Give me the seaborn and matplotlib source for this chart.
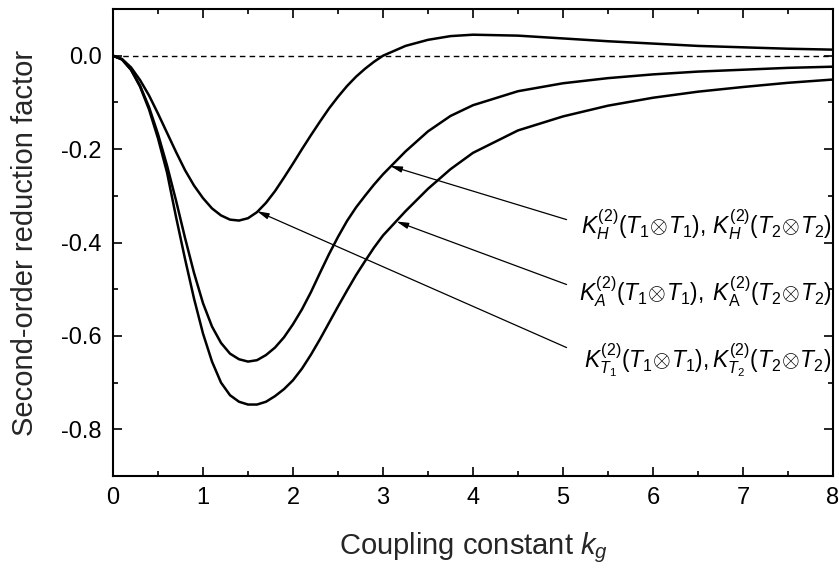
import numpy as np
import pandas as pd
import matplotlib
matplotlib.use('Agg')
import matplotlib.pyplot as plt
import seaborn as sns
from matplotlib.ticker import MultipleLocator, FormatStrFormatter

# Values
k_g = [0.0, 0.1, 0.2, 0.3, 0.4, 0.5, 0.6, 0.7, 0.8, 0.9, 1.0, 1.1, 1.2, 1.3, 1.4, 1.5,
       1.6, 1.7, 1.8, 1.9, 2.0, 2.1, 2.2, 2.3, 2.4, 2.5, 2.6, 2.7, 2.8, 2.9, 3.0,
       3.25, 3.5, 3.75, 4.0, 4.5, 5.0, 5.5, 6.0, 6.5, 7.0, 7.5, 8.0]

# curve with the shallow minimum, pointed to by the K_T label
k_t = [0.0, -0.007, -0.025, -0.052, -0.085, -0.124, -0.165, -0.206, -0.245, -0.278,
       -0.305, -0.327, -0.342, -0.351, -0.353, -0.348, -0.335, -0.315, -0.290, -0.261,
       -0.231, -0.200, -0.170, -0.141, -0.113, -0.088, -0.065, -0.045, -0.028, -0.013,
       0.0, 0.021, 0.034, 0.042, 0.045, 0.043, 0.037, 0.031, 0.026, 0.021, 0.018,
       0.015, 0.013]

# middle curve, pointed to by the K_H label
k_h = [0.0, -0.008, -0.030, -0.064, -0.110, -0.168, -0.235, -0.310, -0.390, -0.465,
       -0.530, -0.580, -0.615, -0.638, -0.650, -0.655, -0.652, -0.641, -0.625, -0.603,
       -0.575, -0.543, -0.506, -0.465, -0.425, -0.388, -0.354, -0.325, -0.300, -0.276,
       -0.254, -0.205, -0.162, -0.129, -0.106, -0.076, -0.059, -0.048, -0.040, -0.034,
       -0.030, -0.026, -0.0235]

# deepest curve, pointed to by the K_A label
k_a = [0.0, -0.008, -0.030, -0.066, -0.115, -0.177, -0.250, -0.345, -0.435, -0.520,
       -0.595, -0.655, -0.700, -0.727, -0.741, -0.747, -0.747, -0.741, -0.729, -0.714,
       -0.695, -0.670, -0.640, -0.607, -0.572, -0.537, -0.503, -0.470, -0.440, -0.411,
       -0.385, -0.333, -0.285, -0.243, -0.208, -0.160, -0.130, -0.107, -0.090, -0.077,
       -0.067, -0.058, -0.051]

labels = [
    r'$K_H^{(2)}(T_1\!\otimes\! T_1),\, K_H^{(2)}(T_2\!\otimes\! T_2)$',
    r'$K_A^{(2)}(T_1\!\otimes\! T_1),\;K_\mathrm{A}^{(2)}(T_2\!\otimes\! T_2)$',
    r'$K_{T_1}^{(2)}(T_1\!\otimes\! T_1),K_{T_2}^{(2)}(T_2\!\otimes\! T_2)$',
]
label_y = [-0.362, -0.506, -0.653]
arrow_tips = [(3.08, -0.236), (3.15, -0.355), (1.60, -0.333)]
arrow_tail_x = 5.04
arrow_tail_y = [-0.351, -0.490, -0.625]

df = pd.DataFrame({
    'k': k_g * 3,
    'value': k_t + k_h + k_a,
    'curve': ['T'] * len(k_g) + ['H'] * len(k_g) + ['A'] * len(k_g),
})

sns.set_style('ticks')
plt.rcParams['font.family'] = ['Liberation Sans', 'DejaVu Sans']
plt.rcParams['mathtext.fontset'] = 'custom'
plt.rcParams['mathtext.rm'] = 'Liberation Sans'
plt.rcParams['mathtext.it'] = 'Liberation Sans:italic'
plt.rcParams['axes.unicode_minus'] = False

fig = plt.figure(figsize=(8.39, 5.71), dpi=100)
ax = fig.add_axes([0.1347, 0.1664, 0.8581, 0.8178])

sns.lineplot(data=df, x='k', y='value', hue='curve', units='curve', estimator=None,
             palette={'T': 'black', 'H': 'black', 'A': 'black'}, linewidth=1.8,
             legend=False, ax=ax)
ax.axhline(0, color='black', lw=1.0, ls=(0, (4, 3)))

for lab, ly in zip(labels, label_y):
    ax.text(7.99, ly, lab, ha='right', va='center', fontsize=16.5, color='black')
for tip, ty in zip(arrow_tips, arrow_tail_y):
    ax.annotate('', xy=tip, xytext=(arrow_tail_x, ty),
                arrowprops=dict(arrowstyle='-|>,head_length=0.7,head_width=0.18',
                                color='black', lw=0.9, shrinkA=0, shrinkB=0))

ax.set_xlim(0, 8)
ax.set_ylim(-0.9, 0.1)
ax.xaxis.set_major_locator(MultipleLocator(1))
ax.xaxis.set_minor_locator(MultipleLocator(0.5))
ax.yaxis.set_major_locator(MultipleLocator(0.2))
ax.yaxis.set_minor_locator(MultipleLocator(0.1))
ax.yaxis.set_major_formatter(FormatStrFormatter('%.1f'))
ax.tick_params(which='both', direction='in', top=True, right=True, width=1.2,
               labelsize=17, pad=8, color='black', labelcolor='black')
ax.tick_params(which='major', length=6.5)
ax.tick_params(which='minor', length=3.5)
for s in ax.spines.values():
    s.set_linewidth(1.5)
    s.set_color('black')

ax.set_xlabel(r'Coupling constant $k_g$', fontsize=21, labelpad=15)
ax.set_ylabel('Second-order reduction factor', fontsize=21, labelpad=16)

fig.savefig('out.png', dpi=100)
